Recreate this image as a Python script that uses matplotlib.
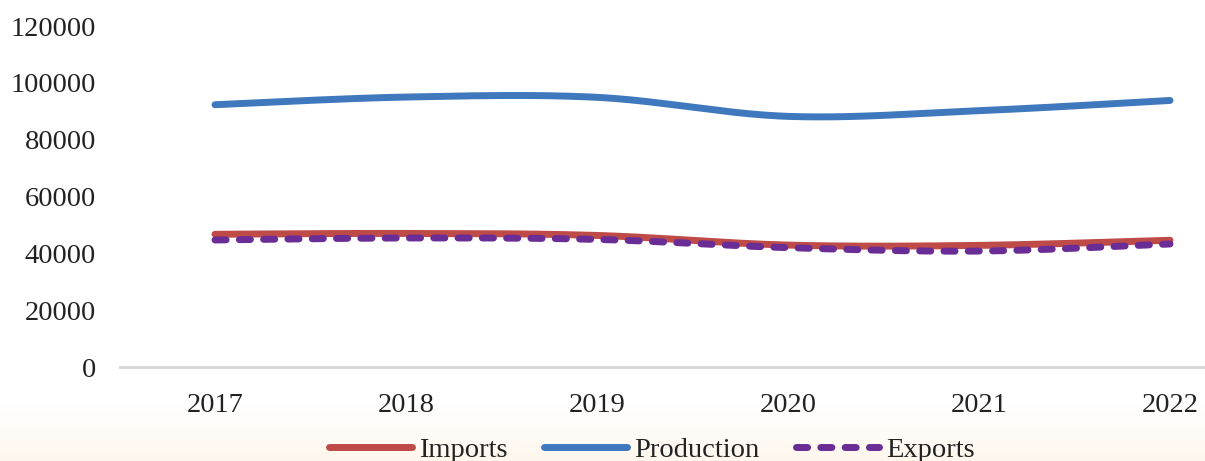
import matplotlib
matplotlib.use("Agg")
import matplotlib.pyplot as plt
import numpy as np

years = ["2017", "2018", "2019", "2020", "2021", "2022"]
imports = [46700, 47000, 46300, 42900, 42800, 44600]
production = [92300, 95000, 94900, 88200, 90200, 93800]
exports = [44700, 45400, 44900, 42000, 40800, 43300]
yticks = [0, 20000, 40000, 60000, 80000, 100000, 120000]


def smooth(xs, ys, n=40):
    # Excel-like smoothed line: cubic bezier with catmull-rom control points
    xs = np.asarray(xs, float)
    ys = np.asarray(ys, float)
    px, py = [], []
    for i in range(len(xs) - 1):
        i0 = max(i - 1, 0)
        i3 = min(i + 2, len(xs) - 1)
        p0 = np.array([xs[i0], ys[i0]])
        p1 = np.array([xs[i], ys[i]])
        p2 = np.array([xs[i + 1], ys[i + 1]])
        p3 = np.array([xs[i3], ys[i3]])
        c1 = p1 + (p2 - p0) / 6
        c2 = p2 - (p3 - p1) / 6
        t = np.linspace(0, 1, n)[:, None]
        pts = ((1 - t) ** 3) * p1 + 3 * ((1 - t) ** 2) * t * c1 + 3 * (1 - t) * t ** 2 * c2 + t ** 3 * p2
        px.extend(pts[:, 0])
        py.extend(pts[:, 1])
    return px, py


plt.rcParams["font.family"] = ["Liberation Serif", "DejaVu Serif"]

fig = plt.figure(figsize=(12.05, 4.61), dpi=100)

# faint warm glow along the bottom edge
bg = fig.add_axes([0, 0, 1, 0.13], zorder=-5)
grad = np.linspace(0, 1, 60)[:, None]   # 0 at bottom, 1 at top
base = np.array([1.0, 1.0, 1.0])
warm = np.array([0.995, 0.965, 0.925])
img = warm + (base - warm) * grad[:, :, None] ** 0.8
img = np.repeat(img, 10, axis=1)
bg.imshow(img, aspect="auto", extent=[0, 1, 0, 1], origin="lower")
bg.axis("off")

ax = fig.add_axes([119.5 / 1205, 94 / 461, 1146 / 1205, 341 / 461])
ax.patch.set_alpha(0)

x = np.arange(len(years))
sx, sy = smooth(x, imports)
ax.plot(sx, sy, color="#be4b48", lw=5, solid_capstyle="round", label="Imports", zorder=3)
sx, sy = smooth(x, production)
ax.plot(sx, sy, color="#3f78bd", lw=5, solid_capstyle="round", label="Production", zorder=3)
sx, sy = smooth(x, exports)
ax.plot(sx, sy, color="#6a2c95", lw=5, dash_capstyle="round", dashes=(1.6, 1.9),
        label="Exports", zorder=4)

ax.set_xlim(-0.5, 5.5)
ax.set_ylim(0, 120000)
ax.set_xticks(x)
ax.set_xticklabels(years)
ax.set_yticks(yticks)
ax.set_yticklabels([str(v) for v in yticks])
ax.tick_params(axis="both", length=0, labelsize=20.5, colors="#222222")
ax.tick_params(axis="y", pad=17)
ax.tick_params(axis="x", pad=19)

for s in ["top", "right", "left"]:
    ax.spines[s].set_visible(False)
ax.spines["bottom"].set_color("#d9d9d9")
ax.spines["bottom"].set_linewidth(2.2)

leg = fig.legend(loc="center", bbox_to_anchor=(652 / 1205, 1 - 450 / 461), ncol=3,
                 frameon=False, fontsize=20.5, handlelength=2.9, handletextpad=0.25,
                 columnspacing=1.3)
for t in leg.get_texts():
    t.set_color("#222222")

fig.savefig("out.png", dpi=100)
